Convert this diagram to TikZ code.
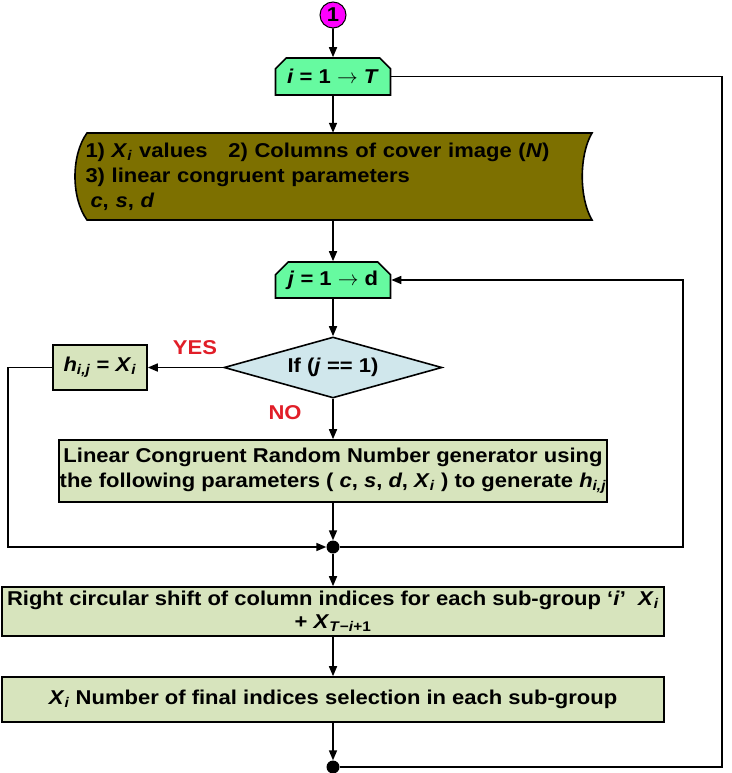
\documentclass[tikz,border=0pt]{standalone}
\usepackage{fontspec}
\setmainfont{Liberation Sans}[FakeStretch=1.1]
\usetikzlibrary{arrows.meta,shapes.geometric,shapes.misc}
\definecolor{startpink}{RGB}{255,0,255}
\definecolor{loopgreen}{RGB}{102,250,160}
\definecolor{dataolive}{RGB}{125,112,0}
\definecolor{procgreen}{RGB}{215,228,189}
\definecolor{decblue}{RGB}{208,231,236}
\definecolor{answerred}{RGB}{225,30,40}

\newcommand{\xsub}[2]{\textit{#1}\textsubscript{\textit{#2}}}

\begin{document}
\begin{tikzpicture}[x=1pt, y=-1pt,
  font=\fontsize{20}{25}\selectfont\bfseries,
  loopbox/.style={chamfered rectangle, chamfered rectangle corners={north west,north east},
    chamfered rectangle xsep=10pt, chamfered rectangle angle=45, draw, line width=1.6pt,
    fill=loopgreen, inner sep=0pt, minimum width=115pt, minimum height=37pt},
  procbox/.style={rectangle, draw, line width=1.6pt, fill=procgreen, inner sep=0pt, align=center},
  arr/.style={line width=1.6pt, -{Triangle[length=10pt,width=8pt]}},
  plain/.style={line width=1.6pt},
  dot/.style={circle, fill=black, inner sep=0pt, minimum size=13pt},
  answer/.style={text=answerred}]

  \useasboundingbox (0,0) rectangle (731,773);

  % start connector and outer loop
  \node (start) [circle, draw, line width=1pt, fill=startpink, inner sep=0pt, minimum size=26pt] at (333,15) {1};
  \node (iloop) [loopbox] at (333,76.5) {\textit{i} = 1 $\rightarrow$ \textit{T}};

  % inputs
  \draw[line width=1.6pt, fill=dataolive] (87,133) -- (592,133)
    .. controls (579,155) and (579,198) .. (592,220) -- (87,220)
    .. controls (71,198) and (71,155) .. (87,133) -- cycle;
  \node (inp) [text width=495pt, inner xsep=12pt, inner ysep=0pt, minimum height=87pt, align=left] at (333,176.5)
    {1) \xsub{X}{i} values\hspace{14pt} 2) Columns of cover image (\textit{N})\\
     3) linear congruent parameters\\
     \hspace{5pt}\textit{c}, \textit{s}, \textit{d}};

  % inner loop
  \node (jloop) [loopbox, minimum height=36pt] at (333,280) {\textit{j} = 1 $\rightarrow$ d};
  \node (test) [diamond, shape aspect=3.6, draw, line width=1.6pt, fill=decblue, inner sep=0pt, minimum width=218pt, minimum height=61pt] at (333,367.5) {If (\textit{j} == 1)};
  \node (first) [procbox, minimum width=94pt, minimum height=45pt] at (100,367.5) {\xsub{h}{i,j} = \xsub{X}{i}};
  \node (yes) [answer] at (195,348) {YES};
  \node (no) [answer] at (285,413) {NO};
  \node (lcg) [procbox, minimum width=548pt, minimum height=62pt] at (333,471)
    {Linear Congruent Random Number generator using\\
     the following parameters ( \textit{c}, \textit{s}, \textit{d}, \xsub{X}{i} ) to generate \xsub{h}{i,j}};
  \node (join) [dot] at (333,547) {};

  % shift and selection
  \node (shift) [procbox, minimum width=662pt, minimum height=49pt, font=\fontsize{20}{23}\selectfont\bfseries] at (333,611.5)
    {Right circular shift of column indices for each sub-group ‘\textit{i}’\ \ \xsub{X}{i}\\
     + \textit{X}\textsubscript{\textit{T}−\textit{i}+1}};
  \node (select) [procbox, minimum width=662pt, minimum height=45pt] at (333,699.5)
    {\xsub{X}{i} Number of final indices selection in each sub-group};
  \node (next) [dot] at (333,767) {};

  \coordinate (leftturn) at (8,547);
  \coordinate (rightturn) at (683,547);
  \coordinate (farturn) at (722,767);

  % connectors
  \draw[arr] (start) -- (iloop);
  \draw[arr] (iloop) -- (inp);
  \draw[arr] (inp) -- (jloop);
  \draw[arr] (jloop) -- (test);
  \draw[arr] (test) -- (first);
  \draw[arr] (test) -- (lcg);
  \draw[arr] (lcg) -- (join);
  \draw[arr] (first.west) -| (leftturn) -- (join);
  \draw[arr] (join) -- (rightturn) |- (jloop);
  \draw[arr] (join) -- (shift);
  \draw[arr] (shift) -- (select);
  \draw[arr] (select) -- (next);
  \draw[plain] (next) -- (farturn) |- (iloop);

\end{tikzpicture}
\end{document}
